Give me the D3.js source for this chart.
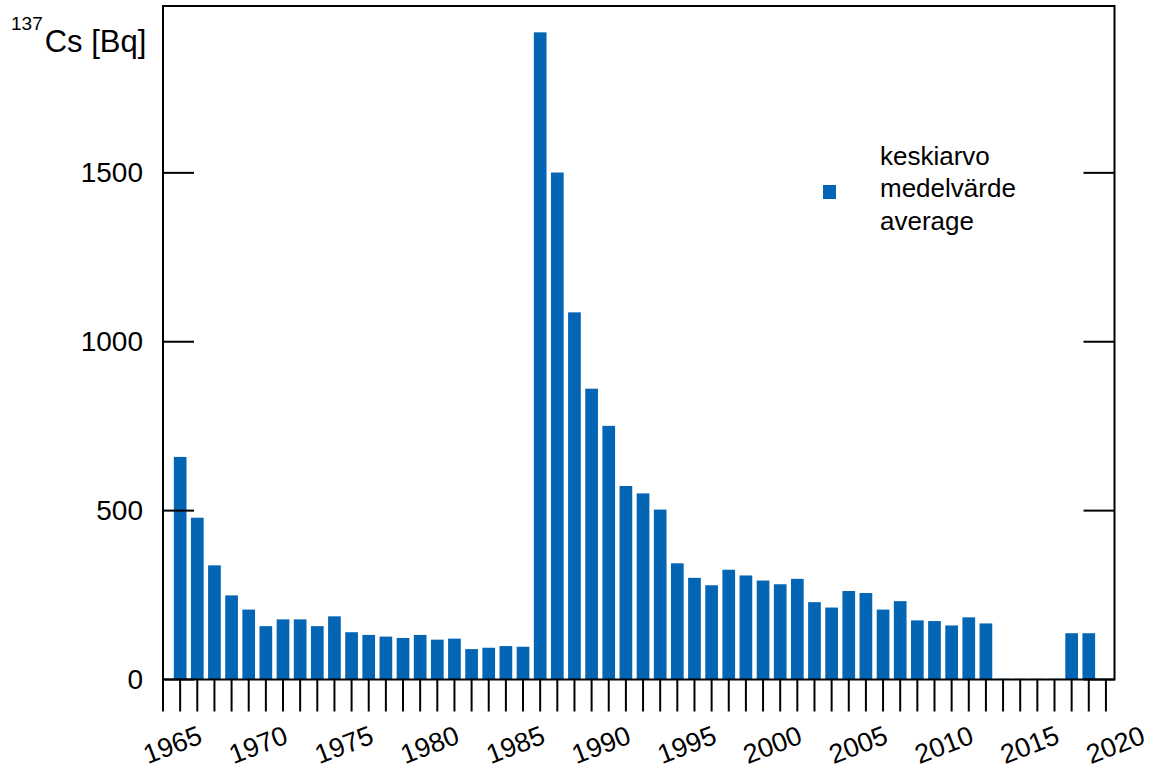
<!DOCTYPE html>
<html>
<head>
<meta charset="utf-8">
<script src="https://cdn.jsdelivr.net/npm/d3@7"></script>
<style>
  html, body { margin: 0; padding: 0; background: #fff; }
  svg { display: block; font-family: "Liberation Sans", Arial, sans-serif; }
</style>
</head>
<body>
<svg id="chart" width="1151" height="769"></svg>
<script>
const years = d3.range(1965, 2019);
const values = [
  659, 479, 338, 249, 207, 158, 178, 178, 158, 187,
  140, 132, 127, 123, 132, 118, 121, 90, 94, 99,
  97, 1916, 1501, 1087, 861, 751, 573, 551, 503, 344,
  301, 279, 325, 308, 293, 282, 298, 229, 213, 262,
  256, 207, 232, 175, 173, 160, 184, 166, 2, 2,
  2, 2, 137, 137
];
const yTicks = [0, 500, 1000, 1500];
const xLabels = [1965, 1970, 1975, 1980, 1985, 1990, 1995, 2000, 2005, 2010, 2015, 2020];
const legendLines = ["keskiarvo", "medelvärde", "average"];

const data = years.map((yr, i) => ({ year: yr, value: values[i] }));
const color = "#0365b4";

const svg = d3.select("#chart");
const pL = 163, pR = 1114.5, pT = 6, pB = 679.5;

const x = d3.scaleLinear().domain([1964.5, 2020]).range([pL, pR]);
const y = d3.scaleLinear().domain([0, 1994]).range([pB, pT]);
const step = x(1) - x(0);
const barW = step * 0.74;

// bars
svg.append("g").selectAll("rect").data(data).join("rect")
  .attr("x", d => x(d.year + 0.5) - barW / 2)
  .attr("width", barW)
  .attr("y", d => y(d.value))
  .attr("height", d => y(0) - y(d.value))
  .attr("fill", color);

// frame
svg.append("rect")
  .attr("x", pL).attr("y", pT)
  .attr("width", pR - pL).attr("height", pB - pT)
  .attr("fill", "none").attr("stroke", "#000").attr("stroke-width", 2);

// x ticks (at bar centres, downward)
const xTickVals = d3.range(1964, 2020).map(v => v + 0.5);
svg.append("g").selectAll("line").data(xTickVals).join("line")
  .attr("x1", d => x(d)).attr("x2", d => x(d))
  .attr("y1", pB).attr("y2", pB + 32)
  .attr("stroke", "#000").attr("stroke-width", 2);

// x labels rotated
svg.append("g").selectAll("text").data(xLabels).join("text")
  .attr("transform", d => `translate(${x(d) + 1},745) rotate(-21)`)
  .attr("text-anchor", "middle")
  .attr("dominant-baseline", "central")
  .attr("font-size", 27)
  .attr("fill", "#000")
  .text(d => d);

// y ticks inward on both sides
const yt = svg.append("g");
yt.selectAll("line.l").data(yTicks).join("line").attr("class", "l")
  .attr("x1", pL).attr("x2", pL + 31)
  .attr("y1", d => y(d)).attr("y2", d => y(d))
  .attr("stroke", "#000").attr("stroke-width", 2);
yt.selectAll("line.r").data(yTicks).join("line").attr("class", "r")
  .attr("x1", pR - 31).attr("x2", pR)
  .attr("y1", d => y(d)).attr("y2", d => y(d))
  .attr("stroke", "#000").attr("stroke-width", 2);
yt.selectAll("text").data(yTicks).join("text")
  .attr("x", 143).attr("y", d => y(d))
  .attr("text-anchor", "end")
  .attr("dominant-baseline", "central")
  .attr("font-size", 28)
  .attr("fill", "#000")
  .text(d => d);

// y title
const title = svg.append("text").attr("x", 11).attr("y", 52).attr("fill", "#000");
title.append("tspan").attr("font-size", 19).attr("dy", -22).text("137");
title.append("tspan").attr("font-size", 31).attr("dx", 2).attr("dy", 22).text("Cs [Bq]");

// legend
svg.append("rect").attr("x", 823).attr("y", 185).attr("width", 13).attr("height", 14).attr("fill", color);
const ly = [164.5, 197, 229.5];
svg.append("g").selectAll("text").data(legendLines).join("text")
  .attr("x", 880).attr("y", (d, i) => ly[i])
  .attr("font-size", 26).attr("fill", "#000")
  .text(d => d);
</script>
</body>
</html>
